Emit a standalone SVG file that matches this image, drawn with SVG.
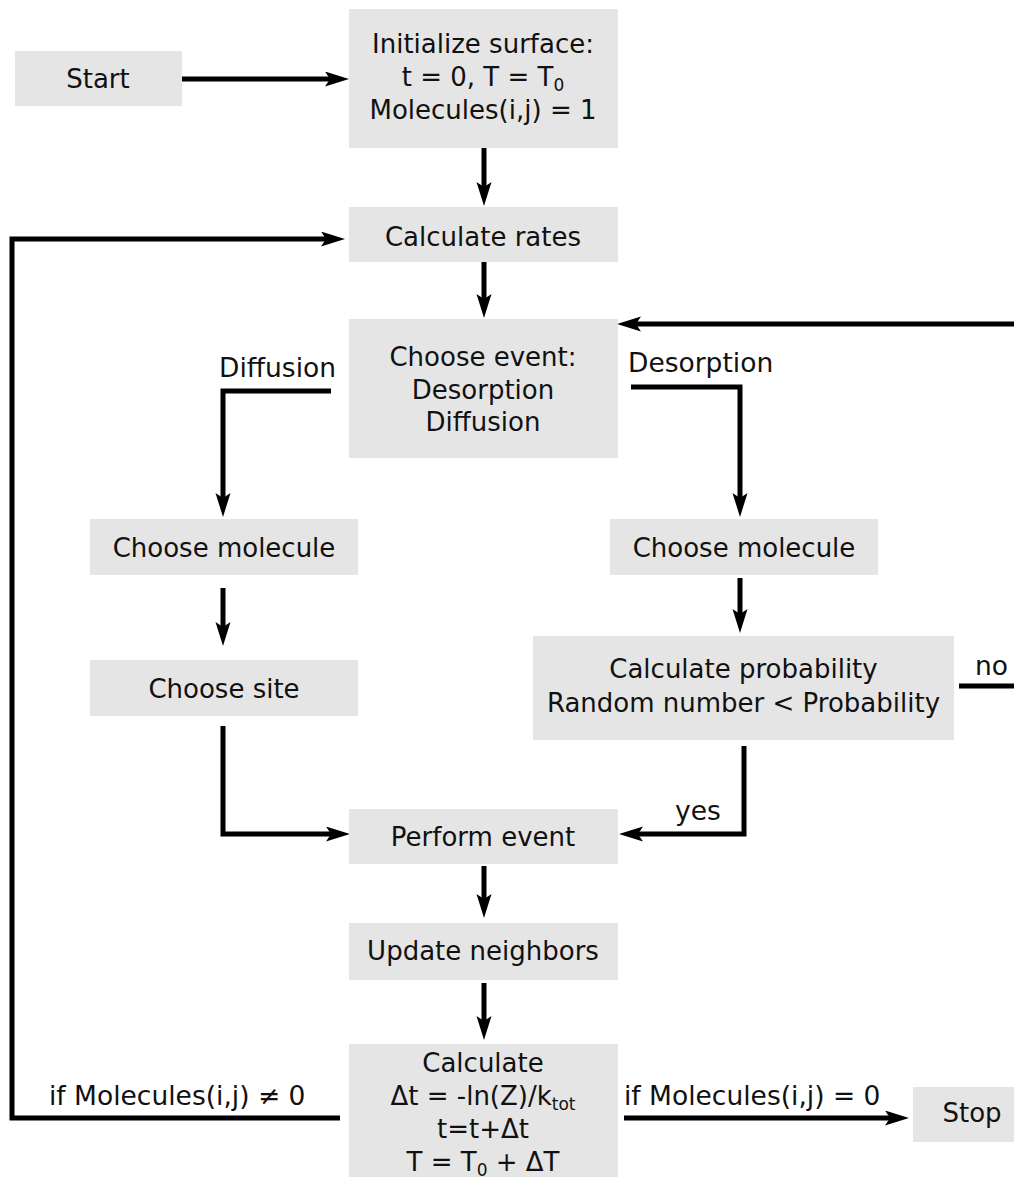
<svg xmlns="http://www.w3.org/2000/svg" width="1014" height="1179" viewBox="0 0 1014 1179">
  <style>
    .box { fill: #e5e5e5; }
    .t { font-family: "DejaVu Sans", Verdana, sans-serif; font-size: 26px; fill: #111; }
    .lbl { font-size: 26.5px; }
    .c { text-anchor: middle; }
    .sub { font-size: 17px; }
    .wire { fill: none; stroke: #000; stroke-width: 5; stroke-linejoin: miter; }
    .arrow { marker-end: url(#head); }
  </style>
  <defs>
    <marker id="head" markerUnits="userSpaceOnUse" markerWidth="26" markerHeight="16" refX="13" refY="7.5" orient="auto">
      <path d="M0,0 L24,7.5 L0,15 L5,7.5 Z" fill="#000"/>
    </marker>
  </defs>
  <rect width="1014" height="1179" fill="#fff"/>

  <g id="connectors">
    <path class="wire arrow" d="M182,79 H338"/>
    <path class="wire arrow" d="M484,148 V195"/>
    <path class="wire arrow" d="M484,262 V307"/>
    <path class="wire arrow" d="M340,1118 H12 V239 H334"/>
    <path class="wire arrow" d="M959,686 H1018 V324 H628"/>
    <path class="wire arrow" d="M331,391 H223 V506"/>
    <path class="wire arrow" d="M631,387 H740 V506"/>
    <path class="wire arrow" d="M223,588 V635"/>
    <path class="wire arrow" d="M740,578 V622"/>
    <path class="wire arrow" d="M223,726 V834 H339"/>
    <path class="wire arrow" d="M744,746 V834 H630"/>
    <path class="wire arrow" d="M484,866 V907"/>
    <path class="wire arrow" d="M484,983 V1029"/>
    <path class="wire arrow" d="M624,1118 H898"/>
    <text class="t lbl" x="219" y="377">Diffusion</text>
    <text class="t lbl" x="628" y="372">Desorption</text>
    <text class="t lbl" x="975" y="675">no</text>
    <text class="t lbl" x="675" y="820">yes</text>
    <text class="t lbl" x="49" y="1105">if Molecules(i,j) ≠ 0</text>
    <text class="t lbl" x="624" y="1105">if Molecules(i,j) = 0</text>
  </g>

  <g id="start">
    <rect class="box" x="15" y="51" width="167" height="55"/>
    <text class="t c" x="98" y="88">Start</text>
  </g>

  <g id="initialize">
    <rect class="box" x="349" y="9" width="269" height="139"/>
    <text class="t c" x="483" y="53">Initialize surface:</text>
    <text class="t c" x="483" y="86">t = 0, T = T<tspan class="sub" dy="5">0</tspan></text>
    <text class="t c" x="483" y="119">Molecules(i,j) = 1</text>
  </g>

  <g id="rates">
    <rect class="box" x="349" y="207" width="269" height="55"/>
    <text class="t c" x="483" y="246">Calculate rates</text>
  </g>

  <g id="event">
    <rect class="box" x="349" y="319" width="269" height="139"/>
    <text class="t c" x="483" y="366">Choose event:</text>
    <text class="t c" x="483" y="399">Desorption</text>
    <text class="t c" x="483" y="431">Diffusion</text>
  </g>

  <g id="molecule-diffusion">
    <rect class="box" x="90" y="519" width="268" height="56"/>
    <text class="t c" x="224" y="557">Choose molecule</text>
  </g>

  <g id="site">
    <rect class="box" x="90" y="660" width="268" height="56"/>
    <text class="t c" x="224" y="698">Choose site</text>
  </g>

  <g id="molecule-desorption">
    <rect class="box" x="610" y="519" width="268" height="56"/>
    <text class="t c" x="744" y="557">Choose molecule</text>
  </g>

  <g id="probability">
    <rect class="box" x="533" y="636" width="421" height="104"/>
    <text class="t c" x="743.5" y="678">Calculate probability</text>
    <text class="t c" x="743.5" y="712">Random number &lt; Probability</text>
  </g>

  <g id="perform">
    <rect class="box" x="349" y="809" width="269" height="55"/>
    <text class="t c" x="483" y="846">Perform event</text>
  </g>

  <g id="neighbors">
    <rect class="box" x="349" y="923" width="269" height="57"/>
    <text class="t c" x="483" y="960">Update neighbors</text>
  </g>

  <g id="timestep">
    <rect class="box" x="349" y="1044" width="269" height="133"/>
    <text class="t c" x="483" y="1072">Calculate</text>
    <text class="t c" x="483" y="1105">Δt = -ln(Z)/k<tspan class="sub" dy="5">tot</tspan></text>
    <text class="t c" x="483" y="1138">t=t+Δt</text>
    <text class="t c" x="483" y="1171">T = T<tspan class="sub" dy="5">0</tspan><tspan dy="-5"> + ΔT</tspan></text>
  </g>

  <g id="stop">
    <rect class="box" x="913" y="1087" width="101" height="55"/>
    <text class="t c" x="972" y="1122">Stop</text>
  </g>
</svg>
